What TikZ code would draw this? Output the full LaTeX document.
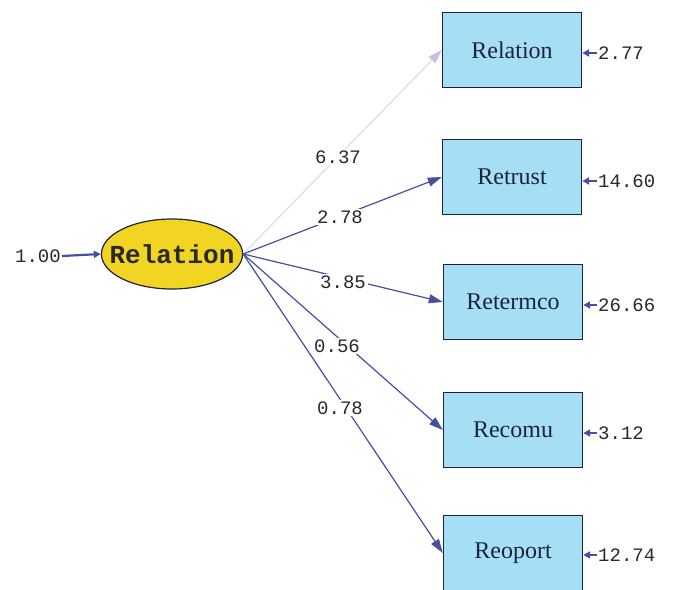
\documentclass[tikz,border=0pt]{standalone}
\usepackage{fontspec}
\setmainfont{Liberation Serif}
\newfontfamily\monofam{Liberation Mono}
\usetikzlibrary{shapes.geometric,arrows.meta}
\definecolor{boxfill}{RGB}{165,222,245}
\definecolor{boxline}{RGB}{30,35,60}
\definecolor{ellfill}{RGB}{242,212,35}
\definecolor{pathcol}{RGB}{70,80,160}
\definecolor{fadecol}{RGB}{222,220,230}
\definecolor{fadetip}{RGB}{205,190,225}
\definecolor{txtcol}{RGB}{40,40,45}
\tikzset{
  obs/.style={draw=boxline, line width=1.4pt, fill=boxfill, minimum width=139pt, minimum height=75pt, inner sep=0pt, font=\fontsize{24}{26}\selectfont, text=boxline},
  lat/.style={ellipse, draw=boxline, line width=1.2pt, fill=ellfill, minimum height=70pt, inner xsep=-12.5pt, inner ysep=0pt, font=\monofam\bfseries\fontsize{26}{28}\selectfont, text=txtcol},
  num/.style={font=\monofam\fontsize{19}{21}\selectfont, text=txtcol, inner sep=1pt},
  lbl/.style={font=\monofam\fontsize{19}{21}\selectfont, text=txtcol, fill=white, inner sep=2pt},
  path/.style={draw=pathcol, line width=1.2pt, -{Triangle[length=14pt,width=9pt]}},
  fpath/.style={draw=fadecol, line width=1.2pt, -{Triangle[length=14pt,width=9pt,color=fadetip]}},
  err/.style={draw=pathcol, line width=2.2pt, -{Triangle[length=7pt,width=7pt]}}
}
\begin{document}
\begin{tikzpicture}[x=1pt,y=-1pt]
\useasboundingbox (0,0) rectangle (685,589);
\clip (0,0) rectangle (685,589);
\fill[white] (0,0) rectangle (685,589);
% latent
\node[lat] (L) at (172,254) {Relation};
\node[num, anchor=east] (e0) at (62,256) {1.00};
\draw[err] (e0.east) -- (L.west);
% observed
\node[obs] (b1) at (512,50) {Relation};
\node[obs] (b2) at (512,177) {Retrust};
\node[obs] (b3) at (513,302) {Retermco};
\node[obs] (b4) at (513,430) {Recomu};
\node[obs] (b5) at (513,553) {Reoport};
% paths
\draw[fpath] (L.east) -- (b1.west);
\draw[path] (L.east) -- (b2.west);
\draw[path] (L.east) -- (b3.west);
\draw[path] (L.east) -- (b4.west);
\draw[path] (L.east) -- (b5.west);
% path labels
\node[lbl] (l1) at (338,157) {6.37};
\node[lbl] (l2) at (340,217) {2.78};
\node[lbl] (l3) at (343,282) {3.85};
\node[lbl] (l4) at (337,346) {0.56};
\node[lbl] (l5) at (340,408) {0.78};
% errors
\node[num, anchor=west] (n1) at (597,53) {2.77};
\node[num, anchor=west] (n2) at (597,181) {14.60};
\node[num, anchor=west] (n3) at (597,305) {26.66};
\node[num, anchor=west] (n4) at (597,433) {3.12};
\node[num, anchor=west] (n5) at (597,555) {12.74};
\draw[err] (n1.west) -- (n1.west -| b1.east);
\draw[err] (n2.west) -- (n2.west -| b2.east);
\draw[err] (n3.west) -- (n3.west -| b3.east);
\draw[err] (n4.west) -- (n4.west -| b4.east);
\draw[err] (n5.west) -- (n5.west -| b5.east);
\end{tikzpicture}
\end{document}
